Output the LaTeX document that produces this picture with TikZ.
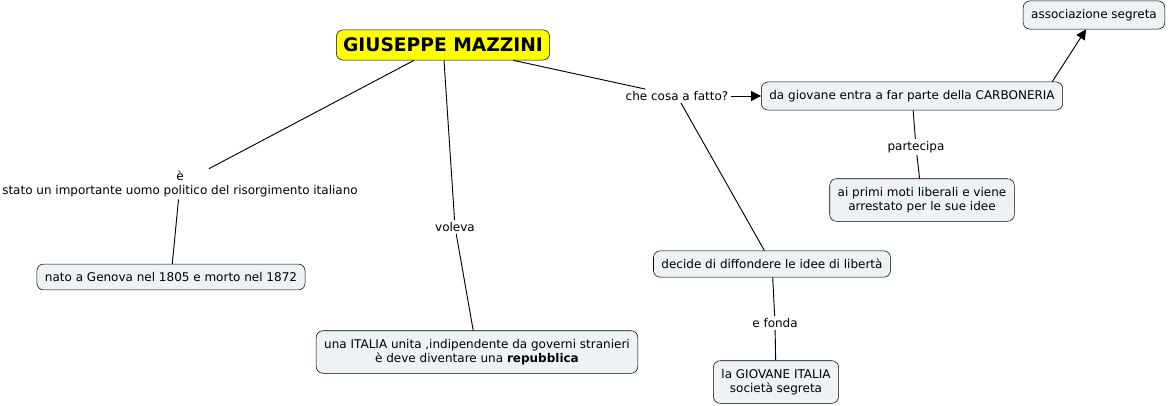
\documentclass[tikz,border=0pt]{standalone}
\usepackage{fontspec}
\setmainfont{DejaVu Sans}
\usepackage{xcolor}
\usepackage{tikz}
\usetikzlibrary{arrows.meta, positioning}
\definecolor{conceptfill}{HTML}{EDF2F4}
\definecolor{mainyellow}{HTML}{FFFF00}

\begin{document}
\begin{tikzpicture}[
    x=0.75pt, y=-0.75pt,
    % concetti (riquadri arrotondati)
    concept/.style={
        draw=black, fill=conceptfill, rounded corners=5pt, align=center,
        font=\fontsize{9}{10.8}\selectfont, inner xsep=6pt, inner ysep=6.2pt
    },
    % concetto principale
    maincpt/.style={concept, fill=mainyellow,
        font=\fontsize{14}{16}\selectfont\bfseries, inner xsep=5pt, inner ysep=6pt},
    % frasi di collegamento
    linkph/.style={
        align=center, font=\fontsize{9}{10.5}\selectfont,
        inner sep=1.5pt
    },
    % connettori
    conn/.style={draw=black, line width=0.7pt},
    arrow/.style={conn, -{Triangle[length=7.5pt, width=7.5pt]}}
]
    \useasboundingbox (0,0) rectangle (1169,405);

    % --- CONCETTO CENTRALE ---
    \node[maincpt] (mazzini) at (443,45) {GIUSEPPE MAZZINI};

    % --- RAMO SINISTRO ---
    \node[linkph] (estato) at (180,184)
        {è\\stato un importante uomo politico del risorgimento italiano};
    \node[concept] (genova) at (171,277) {nato a Genova nel 1805 e morto nel 1872};

    % --- RAMO CENTRALE ---
    \node[linkph] (voleva) at (455,227) {voleva};
    \node[concept] (italia) at (477,352)
        {una ITALIA unita ,indipendente da governi stranieri\\è deve diventare una \textbf{repubblica}};

    % --- RAMO DESTRO ---
    \node[linkph] (fatto) at (677,96) {che cosa a fatto?};
    \node[concept] (carbo) at (912,96) {da giovane entra a far parte della CARBONERIA};
    \node[concept] (assoc) at (1094,15) {associazione segreta};
    \node[linkph] (partecipa) at (916,147) {partecipa};
    \node[concept] (moti) at (922,200) {ai primi moti liberali e viene\\ arrestato per le sue idee};
    \node[concept] (decide) at (772,264) {decide di diffondere le idee di libertà};
    \node[linkph] (fonda) at (775,323) {e fonda};
    \node[concept] (giovane) at (776,382) {la GIOVANE ITALIA\\società segreta};

    % --- CONNESSIONI ---
    \draw[conn] (mazzini) -- (estato);
    \draw[conn] (estato) -- (genova);

    \draw[conn] (mazzini) -- (voleva);
    \draw[conn] (voleva) -- (italia);

    \draw[conn] (mazzini) -- (fatto);
    \draw[arrow] (fatto) -- (carbo);
    \draw[conn] (fatto) -- (decide);

    \draw[arrow] ([xshift=-8pt]carbo.north east) -- ([xshift=-6pt]assoc.south);
    \draw[conn] (carbo) -- (partecipa);
    \draw[conn] (partecipa) -- (moti);

    \draw[conn] (decide) -- (fonda);
    \draw[conn] (fonda) -- (giovane);

\end{tikzpicture}
\end{document}
